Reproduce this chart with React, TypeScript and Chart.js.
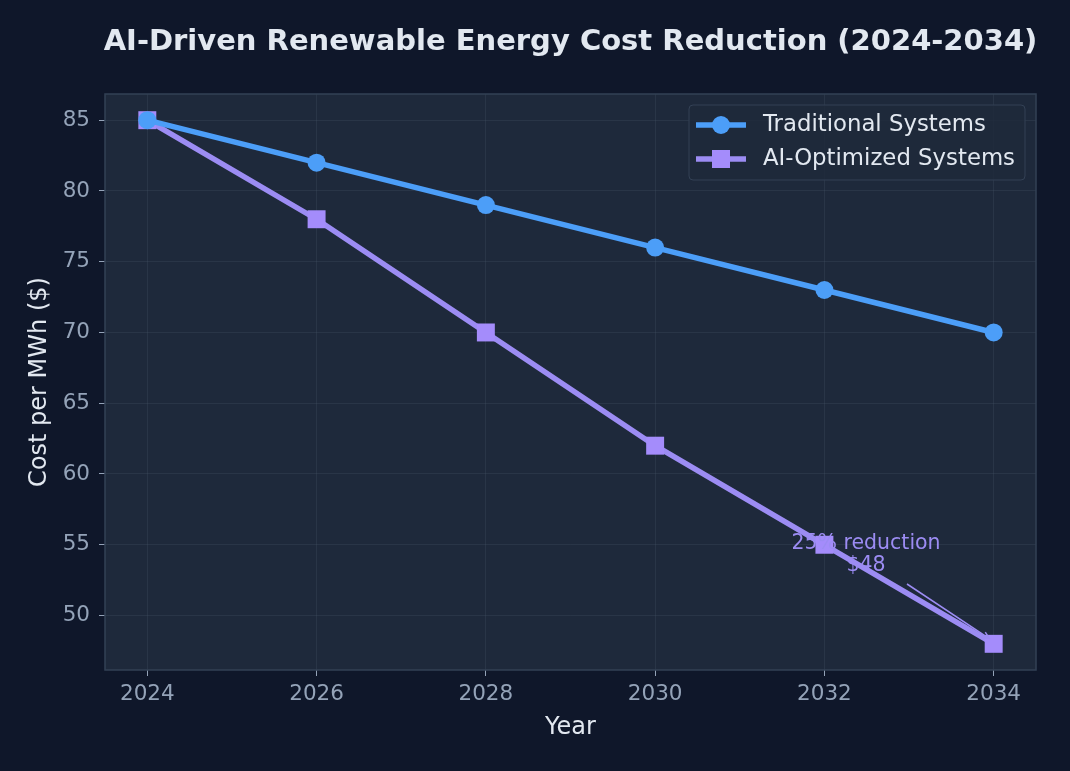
import { useRef, useEffect } from "react";
import Chart from "chart.js/auto";

const years = [2024, 2026, 2028, 2030, 2032, 2034];
const traditionalCost = [85, 82, 79, 76, 73, 70];
const aiCost = [85, 78, 70, 62, 55, 48];
const yTicks = [50, 55, 60, 65, 70, 75, 80, 85];
const seriesNames = ["Traditional Systems", "AI-Optimized Systems"];
const annotationText = ["25% reduction", "$48"];

const colors = {
  page: "#0f172a",
  plot: "#1e293b",
  spine: "#334155",
  grid: "rgba(71, 85, 105, 0.28)",
  tick: "#94a3b8",
  text: "#e2e8f0",
  traditional: "#4c9ef8",
  ai: "#9c8cf3",
  aiMarker: "#a48cfb",
};

const FONT = "'DejaVu Sans', sans-serif";

// draws the figure chrome: plot background, spines, title, axis titles, legend, annotation
const chromePlugin = {
  id: "chrome",
  beforeDraw: (chart: any) => {
    const { ctx, chartArea: a } = chart;
    ctx.save();
    ctx.fillStyle = colors.page;
    ctx.fillRect(0, 0, chart.width, chart.height);
    ctx.fillStyle = colors.plot;
    ctx.fillRect(a.left, a.top, a.right - a.left, a.bottom - a.top);
    ctx.restore();
  },
  afterDraw: (chart: any) => {
    const { ctx, chartArea: a, scales } = chart;
    const cx = (a.left + a.right) / 2;
    ctx.save();

    // spines
    ctx.strokeStyle = colors.spine;
    ctx.lineWidth = 1.5;
    ctx.strokeRect(a.left, a.top, a.right - a.left, a.bottom - a.top);

    // title
    ctx.fillStyle = colors.text;
    ctx.font = `bold 29px ${FONT}`;
    ctx.textAlign = "center";
    ctx.textBaseline = "middle";
    ctx.fillText("AI-Driven Renewable Energy Cost Reduction (2024-2034)", cx, 42);

    // axis titles
    ctx.font = `24px ${FONT}`;
    ctx.fillText("Year", cx, 728);
    ctx.save();
    ctx.translate(40, (a.top + a.bottom) / 2);
    ctx.rotate(-Math.PI / 2);
    ctx.fillText("Cost per MWh ($)", 0, 0);
    ctx.restore();

    // legend box
    const lx = 689, ly = 105, lw = 336, lh = 75;
    ctx.fillStyle = "rgba(30, 41, 59, 0.85)";
    ctx.strokeStyle = colors.spine;
    ctx.lineWidth = 1;
    ctx.beginPath();
    ctx.roundRect(lx, ly, lw, lh, 4);
    ctx.fill();
    ctx.stroke();

    const rows = [
      { y: 125, color: colors.traditional, marker: colors.traditional, square: false },
      { y: 159, color: colors.ai, marker: colors.aiMarker, square: true },
    ];
    rows.forEach((r, i) => {
      ctx.strokeStyle = r.color;
      ctx.lineWidth = 5.5;
      ctx.beginPath();
      ctx.moveTo(696, r.y);
      ctx.lineTo(746, r.y);
      ctx.stroke();
      ctx.fillStyle = r.marker;
      if (r.square) {
        ctx.fillRect(712, r.y - 9, 18, 18);
      } else {
        ctx.beginPath();
        ctx.arc(721, r.y, 9, 0, Math.PI * 2);
        ctx.fill();
      }
      ctx.fillStyle = colors.text;
      ctx.font = `22.8px ${FONT}`;
      ctx.textAlign = "left";
      ctx.textBaseline = "middle";
      ctx.fillText(seriesNames[i], 763, r.y);
    });

    // annotation: text and arrow to the last AI point
    const px = scales.x.getPixelForValue(years[years.length - 1]);
    const py = scales.y.getPixelForValue(aiCost[aiCost.length - 1]);
    ctx.fillStyle = colors.ai;
    ctx.font = `20.5px ${FONT}`;
    ctx.textAlign = "center";
    ctx.textBaseline = "middle";
    ctx.fillText(annotationText[0], 866, 544);
    ctx.fillText(annotationText[1], 866, 566);
    const sx = 907, sy = 584;
    const ex = px - 4, ey = py - 5;
    ctx.strokeStyle = colors.ai;
    ctx.lineWidth = 1.5;
    ctx.beginPath();
    ctx.moveTo(sx, sy);
    ctx.lineTo(ex, ey);
    const ang = Math.atan2(ey - sy, ex - sx);
    ctx.moveTo(ex, ey);
    ctx.lineTo(ex - 8 * Math.cos(ang - 0.4), ey - 8 * Math.sin(ang - 0.4));
    ctx.moveTo(ex, ey);
    ctx.lineTo(ex - 8 * Math.cos(ang + 0.4), ey - 8 * Math.sin(ang + 0.4));
    ctx.stroke();

    ctx.restore();
  },
};

const App = () => {
  const canvasRef = useRef<HTMLCanvasElement | null>(null);
  const chartRef = useRef<any>(null);

  useEffect(() => {
    document.body.style.margin = "0";
    document.body.style.background = colors.page;
    if (!canvasRef.current) return;
    if (chartRef.current) chartRef.current.destroy();
    const ctx = canvasRef.current.getContext("2d");
    if (!ctx) return;

    chartRef.current = new Chart(ctx, {
      type: "line",
      data: {
        datasets: [
          {
            label: seriesNames[0],
            data: years.map((yr, i) => ({ x: yr, y: traditionalCost[i] })),
            borderColor: colors.traditional,
            backgroundColor: colors.traditional,
            borderWidth: 5.5,
            pointStyle: "circle",
            pointRadius: 9,
            pointBorderWidth: 0,
          },
          {
            label: seriesNames[1],
            data: years.map((yr, i) => ({ x: yr, y: aiCost[i] })),
            borderColor: colors.ai,
            backgroundColor: colors.aiMarker,
            borderWidth: 5.5,
            pointStyle: "rect",
            pointRadius: 12.7,
            pointBorderWidth: 0,
          },
        ],
      },
      options: {
        responsive: true,
        maintainAspectRatio: false,
        animation: false,
        layout: { padding: { top: 94, right: 34, bottom: 0, left: 0 } },
        plugins: {
          legend: { display: false },
          title: { display: false },
          tooltip: { enabled: false },
        },
        scales: {
          x: {
            type: "linear",
            min: 2023.5,
            max: 2034.5,
            afterFit: (s: any) => {
              s.height = 101;
            },
            afterBuildTicks: (s: any) => {
              s.ticks = years.map((v) => ({ value: v }));
            },
            ticks: {
              color: colors.tick,
              font: { family: FONT, size: 21.5 },
              padding: 6,
              maxRotation: 0,
              callback: (v: any) => String(v),
            },
            grid: { color: colors.grid, tickColor: colors.tick, tickLength: 6, lineWidth: 1 },
            border: { display: false },
          },
          y: {
            min: 46.15,
            max: 86.85,
            afterFit: (s: any) => {
              s.width = 105;
            },
            afterBuildTicks: (s: any) => {
              s.ticks = yTicks.map((v) => ({ value: v }));
            },
            ticks: {
              color: colors.tick,
              font: { family: FONT, size: 21.5 },
              padding: 9,
            },
            grid: { color: colors.grid, tickColor: colors.tick, tickLength: 6, lineWidth: 1 },
            border: { display: false },
          },
        },
      },
      plugins: [chromePlugin],
    });

    return () => chartRef.current?.destroy();
  }, []);

  return (
    <div style={{ width: 1070, height: 771, position: "relative", background: colors.page }}>
      <canvas ref={canvasRef}></canvas>
    </div>
  );
};

export default App;
